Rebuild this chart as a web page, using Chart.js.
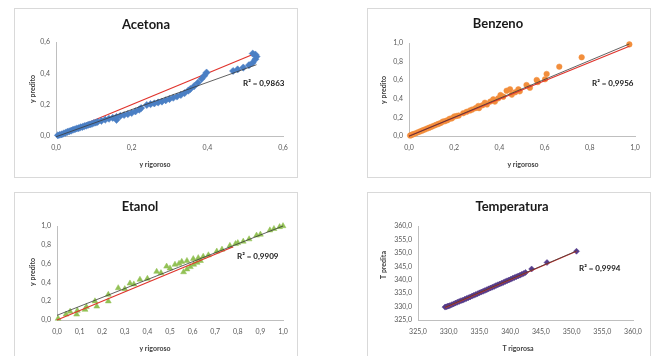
<!DOCTYPE html>
<html>
<head>
<meta charset="utf-8">
<script src="https://cdn.jsdelivr.net/npm/chart.js@4/dist/chart.umd.min.js"></script>
<style>
  html, body { margin: 0; padding: 0; background: #fff; width: 656px; height: 356px; overflow: hidden; }
  .panel { position: absolute; width: 282px; height: 168px; border: 1px solid #d9d9d9; background: #fff; }
  .panel canvas { display: block; }
</style>
</head>
<body>
<div class="panel" style="left:14px; top:8px;"><canvas id="acetonaChart" width="282" height="168"></canvas></div>
<div class="panel" style="left:367px; top:8px;"><canvas id="benzenoChart" width="282" height="168"></canvas></div>
<div class="panel" style="left:14px; top:192px;"><canvas id="etanolChart" width="282" height="168"></canvas></div>
<div class="panel" style="left:367px; top:192px;"><canvas id="tempChart" width="282" height="168"></canvas></div>
<script>
/* global Chart */
// values (y rigoroso vs y predito)
const acetonaX = [0.005, 0.01, 0.015, 0.02, 0.025, 0.03, 0.035, 0.04, 0.045, 0.05, 0.055, 0.06, 0.065, 0.07, 0.075, 0.08, 0.085, 0.09, 0.095, 0.1, 0.105, 0.11, 0.12, 0.13, 0.14, 0.15, 0.16, 0.16, 0.17, 0.18, 0.19, 0.2, 0.21, 0.22, 0.225, 0.24, 0.25, 0.26, 0.27, 0.28, 0.29, 0.3, 0.31, 0.32, 0.33, 0.34, 0.35, 0.355, 0.365, 0.375, 0.385, 0.392, 0.398, 0.468, 0.48, 0.495, 0.51, 0.52, 0.527, 0.53, 0.527, 0.52];
const acetonaY = [0.004, 0.008, 0.01, 0.016, 0.02, 0.026, 0.03, 0.034, 0.04, 0.043, 0.048, 0.05, 0.056, 0.058, 0.063, 0.066, 0.071, 0.074, 0.078, 0.083, 0.086, 0.09, 0.097, 0.104, 0.11, 0.116, 0.103, 0.122, 0.128, 0.134, 0.14, 0.147, 0.157, 0.168, 0.178, 0.198, 0.203, 0.208, 0.214, 0.22, 0.228, 0.236, 0.244, 0.252, 0.262, 0.274, 0.29, 0.3, 0.318, 0.34, 0.365, 0.385, 0.405, 0.415, 0.425, 0.437, 0.452, 0.468, 0.49, 0.507, 0.52, 0.526];
const acetonaIdeal = [[0, 0], [0.52, 0.52]];
const acetonaTrend = [[0, -0.005], [0.53, 0.455]];

const benzenoX = [0.005, 0.01, 0.015, 0.02, 0.03, 0.04, 0.05, 0.06, 0.07, 0.08, 0.09, 0.1, 0.11, 0.12, 0.13, 0.14, 0.15, 0.16, 0.17, 0.18, 0.19, 0.2, 0.21, 0.22, 0.24, 0.255, 0.27, 0.28, 0.295, 0.31, 0.307, 0.325, 0.336, 0.345, 0.36, 0.373, 0.38, 0.395, 0.405, 0.417, 0.432, 0.447, 0.455, 0.47, 0.484, 0.49, 0.52, 0.535, 0.565, 0.57, 0.602, 0.609, 0.665, 0.764, 0.975];
const benzenoY = [0.005, 0.01, 0.016, 0.02, 0.03, 0.04, 0.05, 0.06, 0.07, 0.08, 0.09, 0.1, 0.11, 0.12, 0.13, 0.14, 0.155, 0.16, 0.17, 0.185, 0.19, 0.21, 0.215, 0.22, 0.245, 0.26, 0.275, 0.285, 0.3, 0.3, 0.323, 0.33, 0.358, 0.34, 0.37, 0.394, 0.37, 0.405, 0.44, 0.423, 0.487, 0.502, 0.445, 0.47, 0.502, 0.48, 0.548, 0.52, 0.602, 0.58, 0.61, 0.667, 0.745, 0.846, 0.985];
const benzenoIdeal = [[0, 0], [0.975, 0.965]];
const benzenoTrend = [[0, -0.003], [0.975, 0.99]];

const etanolX = [0.005, 0.04, 0.058, 0.087, 0.09, 0.124, 0.13, 0.168, 0.176, 0.227, 0.227, 0.271, 0.3, 0.323, 0.34, 0.367, 0.4, 0.441, 0.46, 0.485, 0.5, 0.522, 0.54, 0.552, 0.575, 0.603, 0.625, 0.647, 0.67, 0.707, 0.73, 0.765, 0.79, 0.8, 0.824, 0.85, 0.883, 0.9, 0.942, 0.96, 0.985, 1.0, 0.56, 0.575, 0.59, 0.605, 0.62, 0.635];
const etanolY = [0.015, 0.06, 0.09, 0.06, 0.1, 0.11, 0.14, 0.2, 0.145, 0.27, 0.2, 0.34, 0.33, 0.39, 0.38, 0.43, 0.44, 0.515, 0.5, 0.57, 0.55, 0.59, 0.6, 0.62, 0.63, 0.65, 0.66, 0.675, 0.69, 0.73, 0.75, 0.79, 0.81, 0.82, 0.835, 0.86, 0.9, 0.91, 0.955, 0.97, 0.99, 1.0, 0.51, 0.54, 0.565, 0.59, 0.61, 0.63];
const etanolIdeal = [[0, 0], [0.78, 0.78]];
const etanolTrend = [[0, 0.05], [1.0, 1.0]];

const tempX = [329.4, 329.6, 329.8, 330.0, 330.2, 330.5, 330.8, 331.1, 331.4, 331.7, 332.0, 332.3, 332.6, 332.9, 333.2, 333.5, 333.8, 334.1, 334.4, 334.7, 335.0, 335.3, 335.6, 335.9, 336.2, 336.5, 336.8, 337.1, 337.4, 337.7, 338.0, 338.3, 338.6, 338.9, 339.2, 339.5, 339.8, 340.1, 340.4, 340.7, 341.0, 341.3, 341.6, 341.9, 342.2, 342.5, 343.5, 346.0, 350.8];
const tempY = [329.8, 329.9, 330.1, 330.2, 330.4, 330.7, 331.0, 331.3, 331.6, 331.9, 332.2, 332.4, 332.7, 333.0, 333.3, 333.6, 333.9, 334.2, 334.5, 334.8, 335.1, 335.4, 335.7, 336.0, 336.3, 336.6, 336.9, 337.2, 337.5, 337.8, 338.1, 338.4, 338.7, 339.0, 339.3, 339.6, 339.9, 340.2, 340.5, 340.8, 341.1, 341.4, 341.7, 342.0, 342.3, 342.7, 344.0, 346.4, 350.6];
const tempIdeal = [[329.4, 329.6], [350.8, 350.6]];
const tempTrend = [[329.4, 329.7], [350.8, 350.7]];

const FONT = 'Lato, "Liberation Sans", sans-serif';
const comma = (v, d) => Number(v).toFixed(d).replace('.', ',');
const toPts = (xs, ys) => xs.map((x, i) => ({ x, y: ys[i] }));
const pairPts = (arr) => arr.map(p => ({ x: p[0], y: p[1] }));

// draws chart title, axis titles and R² as canvas text
function textPlugin(items) {
  return {
    id: 'panelText',
    afterDraw(chart) {
      const ctx = chart.ctx;
      items.forEach(t => {
        ctx.save();
        ctx.font = t.font;
        ctx.fillStyle = t.color || '#404040';
        ctx.textAlign = t.align || 'center';
        ctx.textBaseline = 'middle';
        ctx.translate(t.x, t.y);
        if (t.rot) ctx.rotate(t.rot);
        ctx.fillText(t.text, 0, 0);
        ctx.restore();
      });
    }
  };
}

function renderPanel(canvasId, o) {
  const el = document.getElementById(canvasId);
  if (!el) return;
  const W = el.width, H = el.height;
  const axis = (min, max, step, dec, pad, fitFn) => ({
    type: 'linear', min, max,
    grid: { display: false, drawTicks: false },
    border: { display: true, color: '#bfbfbf', width: 1 },
    ticks: { stepSize: step, autoSkip: false, maxRotation: 0, padding: pad, color: '#595959', font: { family: FONT, size: 7 }, callback: v => comma(v, dec) },
    afterFit: fitFn
  });
  new Chart(el, {
    type: 'scatter',
    data: {
      datasets: [
        { type: 'line', data: pairPts(o.trend), borderColor: '#3a3a3a', borderWidth: 0.8, pointRadius: 0, fill: false, order: 0, clip: false },
        { type: 'line', data: pairPts(o.ideal), borderColor: '#e0332c', borderWidth: 1.2, pointRadius: 0, fill: false, order: o.redUnder ? 3 : 1, clip: false },
        { data: toPts(o.xs, o.ys), pointStyle: o.marker, pointRadius: o.radius || 3, backgroundColor: o.color, borderColor: o.color, borderWidth: 0.5, order: 2, clip: false }
      ]
    },
    options: {
      responsive: false,
      animation: false,
      layout: { padding: { top: o.area.top, right: W - o.area.right, left: 0, bottom: 0 } },
      plugins: { legend: { display: false }, tooltip: { enabled: false }, title: { display: false } },
      scales: {
        x: axis(o.xMin, o.xMax, o.xStep, o.xDec, 8, s => { s.height = H - o.area.bottom; }),
        y: axis(o.yMin, o.yMax, o.yStep, o.yDec, 6, s => { s.width = o.area.left; })
      }
    },
    plugins: [textPlugin([
      { text: o.title, x: o.titlePos[0], y: o.titlePos[1], font: 'bold 13px ' + FONT, color: '#1a1a1a' },
      { text: o.xTitle, x: o.xTitlePos[0], y: o.xTitlePos[1], font: 'bold 7px ' + FONT, color: '#404040' },
      { text: o.yTitle, x: o.yTitlePos[0], y: o.yTitlePos[1], font: 'bold 7px ' + FONT, color: '#404040', rot: -Math.PI / 2 },
      { text: o.r2, x: o.r2Pos[0], y: o.r2Pos[1], font: 'bold 8px ' + FONT, color: '#1a1a1a', align: 'left' }
    ])]
  });
}

renderPanel('acetonaChart', {
  xs: acetonaX, ys: acetonaY, ideal: acetonaIdeal, trend: acetonaTrend,
  color: '#4a7fc4', marker: 'rectRot', radius: 3.6, redUnder: true,
  xMin: 0, xMax: 0.6, xStep: 0.2, xDec: 1, yMin: 0, yMax: 0.6, yStep: 0.2, yDec: 1,
  area: { left: 41, right: 268, top: 33, bottom: 127 },
  title: 'Acetona', titlePos: [131, 16],
  xTitle: 'y rigoroso', xTitlePos: [140, 156],
  yTitle: 'y predito', yTitlePos: [18, 80],
  r2: 'R² = 0,9863', r2Pos: [228, 74]
});

renderPanel('benzenoChart', {
  xs: benzenoX, ys: benzenoY, ideal: benzenoIdeal, trend: benzenoTrend,
  color: '#f28e3c', marker: 'circle', radius: 2.8,
  xMin: 0, xMax: 1, xStep: 0.2, xDec: 1, yMin: 0, yMax: 1, yStep: 0.2, yDec: 1,
  area: { left: 41, right: 267, top: 34, bottom: 127 },
  title: 'Benzeno', titlePos: [130, 15],
  xTitle: 'y rigoroso', xTitlePos: [155, 156],
  yTitle: 'y predito', yTitlePos: [16, 81],
  r2: 'R² = 0,9956', r2Pos: [224, 74]
});

renderPanel('etanolChart', {
  xs: etanolX, ys: etanolY, ideal: etanolIdeal, trend: etanolTrend,
  color: '#92c155', marker: 'triangle', radius: 3.4,
  xMin: 0, xMax: 1, xStep: 0.1, xDec: 1, yMin: 0, yMax: 1, yStep: 0.2, yDec: 1,
  area: { left: 42, right: 268, top: 33, bottom: 127 },
  title: 'Etanol', titlePos: [125, 14],
  xTitle: 'y rigoroso', xTitlePos: [140, 156],
  yTitle: 'y predito', yTitlePos: [18, 79],
  r2: 'R² = 0,9909', r2Pos: [222, 63]
});

renderPanel('tempChart', {
  xs: tempX, ys: tempY, ideal: tempIdeal, trend: tempTrend,
  color: '#553c8a', marker: 'rectRot', radius: 3,
  xMin: 325, xMax: 360, xStep: 5, xDec: 1, yMin: 325, yMax: 360, yStep: 5, yDec: 1,
  area: { left: 50, right: 265, top: 33, bottom: 127 },
  title: 'Temperatura', titlePos: [144, 14],
  xTitle: 'T rigorosa', xTitlePos: [150, 156],
  yTitle: 'T predita', yTitlePos: [16, 72],
  r2: 'R² = 0,9994', r2Pos: [211, 75]
});
</script>
</body>
</html>
